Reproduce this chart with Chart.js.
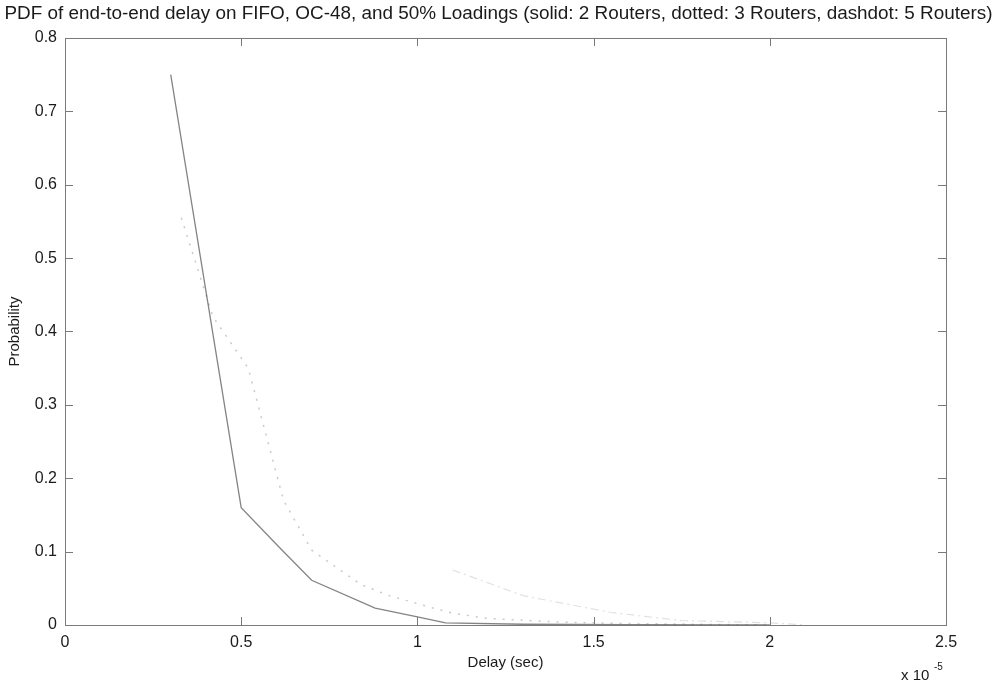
<!DOCTYPE html>
<html>
<head>
<meta charset="utf-8">
<script src="https://cdn.jsdelivr.net/npm/chart.js@4.4.0/dist/chart.umd.min.js"></script>
<style>
  html, body { margin: 0; padding: 0; background: #fff; }
  #wrap { width: 997px; height: 685px; }
</style>
</head>
<body>
<div id="wrap"><canvas id="c" width="997" height="685"></canvas></div>
<script>
// delay in units of 1e-5 sec, probability per bin
const delay2 = [0.30, 0.50, 0.61, 0.70, 0.88, 1.00, 1.08, 1.30, 1.60, 2.00];
const prob2  = [0.75, 0.16, 0.105, 0.061, 0.023, 0.011, 0.003, 0.001, 0.0005, 0.0002];

const delay3 = [0.33, 0.42, 0.52, 0.62, 0.70, 0.84, 0.92, 1.03, 1.10, 1.20, 1.40, 1.60, 1.80, 2.00];
const prob3  = [0.555, 0.42, 0.35, 0.17, 0.102, 0.055, 0.04, 0.025, 0.016, 0.009, 0.004, 0.002, 0.001, 0.0];

const delay5 = [1.10, 1.30, 1.55, 1.75, 2.00, 2.10];
const prob5  = [0.075, 0.04, 0.017, 0.006, 0.003, 0.0];

const xTicks = [0, 0.5, 1, 1.5, 2, 2.5];
const yTicks = [0, 0.1, 0.2, 0.3, 0.4, 0.5, 0.6, 0.7, 0.8];

const pts = (xs, ys) => xs.map((x, i) => ({x, y: ys[i]}));

const AXIS = '#7a7a7a';
const TEXT = '#1a1a1a';
const FONT = 'Liberation Sans, Arial, sans-serif';

// matlab style box + inward ticks + x10^-5 note
const matlabBox = {
  id: 'matlabBox',
  afterDraw(chart) {
    const {ctx, chartArea: a, scales} = chart;
    ctx.save();
    ctx.strokeStyle = AXIS;
    ctx.lineWidth = 1;
    ctx.strokeRect(a.left + 0.5, a.top + 0.5, a.right - a.left, a.bottom - a.top);
    ctx.beginPath();
    xTicks.forEach(v => {
      const px = Math.round(scales.x.getPixelForValue(v)) + 0.5;
      ctx.moveTo(px, a.bottom); ctx.lineTo(px, a.bottom - 8);
      ctx.moveTo(px, a.top); ctx.lineTo(px, a.top + 8);
    });
    yTicks.forEach(v => {
      const py = Math.round(scales.y.getPixelForValue(v)) + 0.5;
      ctx.moveTo(a.left, py); ctx.lineTo(a.left + 8, py);
      ctx.moveTo(a.right, py); ctx.lineTo(a.right - 8, py);
    });
    ctx.stroke();

    ctx.fillStyle = TEXT;
    ctx.textBaseline = 'alphabetic';
    ctx.textAlign = 'left';
    ctx.font = '15px ' + FONT;
    ctx.fillText('x 10', 901, 680);
    ctx.font = '10px ' + FONT;
    ctx.fillText('-5', 934, 670);
    ctx.restore();
  }
};

new Chart(document.getElementById('c'), {
  type: 'line',
  data: {
    datasets: [
      {
        label: '2 Routers',
        data: pts(delay2, prob2),
        borderColor: 'rgba(80,80,80,0.7)',
        borderWidth: 1.3,
        pointRadius: 0,
        tension: 0
      },
      {
        label: '3 Routers',
        data: pts(delay3, prob3),
        borderColor: 'rgba(120,120,120,0.4)',
        borderWidth: 1.5,
        borderDash: [2, 7],
        pointRadius: 0,
        tension: 0
      },
      {
        label: '5 Routers',
        data: pts(delay5, prob5),
        borderColor: 'rgba(120,120,120,0.22)',
        borderWidth: 1.2,
        borderDash: [8, 4, 2, 4],
        pointRadius: 0,
        tension: 0
      }
    ]
  },
  options: {
    responsive: false,
    animation: false,
    layout: { padding: 0 },
    plugins: {
      legend: { display: false },
      tooltip: { enabled: false },
      title: {
        display: true,
        text: 'PDF of end-to-end delay on FIFO, OC-48, and 50% Loadings (solid: 2 Routers, dotted: 3 Routers, dashdot: 5 Routers)',
        color: TEXT,
        font: { family: FONT, size: 18.9, weight: 'normal' },
        padding: { top: 2, bottom: 13.3 }
      }
    },
    scales: {
      x: {
        type: 'linear',
        min: 0,
        max: 2.5,
        afterBuildTicks: s => { s.ticks = xTicks.map(v => ({value: v})); },
        afterFit: s => { s.height = 60; },
        grid: { display: false },
        border: { display: false },
        ticks: {
          color: TEXT,
          font: { family: FONT, size: 16 },
          padding: 0,
          maxRotation: 0,
          callback: v => String(v)
        },
        title: {
          display: true,
          text: 'Delay (sec)',
          color: TEXT,
          font: { family: FONT, size: 15 },
          padding: { top: 0, bottom: 13 }
        }
      },
      y: {
        type: 'linear',
        min: 0,
        max: 0.8,
        afterBuildTicks: s => { s.ticks = yTicks.map(v => ({value: v})); },
        afterFit: s => { s.width = 65; },
        grid: { display: false },
        border: { display: false },
        ticks: {
          color: TEXT,
          font: { family: FONT, size: 16 },
          padding: 0,
          callback: v => String(v)
        },
        title: {
          display: true,
          text: 'Probability',
          color: TEXT,
          font: { family: FONT, size: 15 },
          padding: { top: 6, bottom: 2 }
        }
      },
      // empty right axis, only reserves the margin right of the box
      yRight: {
        type: 'linear',
        position: 'right',
        min: 0,
        max: 0.8,
        afterFit: s => { s.width = 51; },
        grid: { display: false },
        border: { display: false },
        ticks: { display: false }
      }
    }
  },
  plugins: [matlabBox]
});
</script>
</body>
</html>
